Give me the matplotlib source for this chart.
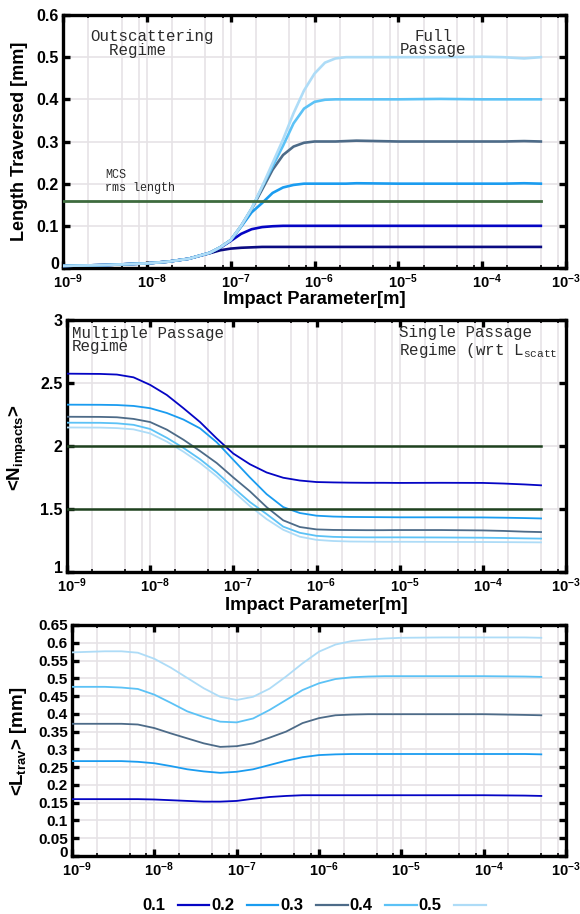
import numpy as np
import matplotlib
matplotlib.use("Agg")
import matplotlib.pyplot as plt
from matplotlib.ticker import FixedLocator, FixedFormatter, NullFormatter
from matplotlib.transforms import ScaledTranslation

plt.rcParams["font.family"] = ["Liberation Sans", "DejaVu Sans"]
plt.rcParams["mathtext.fontset"] = "custom"
plt.rcParams["mathtext.rm"] = "Liberation Sans"
plt.rcParams["mathtext.bf"] = "Liberation Sans:bold"
plt.rcParams["mathtext.it"] = "Liberation Sans:italic"
plt.rcParams["mathtext.tt"] = "Liberation Mono"

# ---------------- data ----------------
thickness_labels = ["0.1", "0.2", "0.3", "0.4", "0.5"]

# log10 of impact parameter [m]
logb_len = [-9, -8.5, -8, -7.75, -7.5, -7.25, -7.125, -7, -6.875, -6.75, -6.625,
            -6.5, -6.375, -6.25, -6.125, -6, -5.875, -5.75, -5.625, -5.5, -5, -4.5,
            -4, -3.75, -3.5, -3.3]
len_005 = [.005, .007, .011, .015, .022, .035, .042, .046, .048, .049, .050, .050,
           .050, .050, .050, .050, .050, .050, .050, .050, .050, .050, .050, .050,
           .050, .050]
len_01 = [.005, .007, .011, .015, .022, .036, .048, .064, .081, .092, .097, .099,
          .100, .100, .100, .100, .100, .100, .100, .100, .100, .100, .100, .100,
          .100, .100]
len_02 = [.005, .007, .011, .015, .022, .036, .049, .066, .098, .132, .154, .178,
          .191, .197, .200, .200, .200, .200, .200, .201, .200, .200, .200, .200,
          .201, .200]
len_03 = [.005, .007, .011, .015, .022, .036, .049, .066, .100, .140, .186, .233,
          .268, .288, .297, .300, .300, .300, .301, .302, .300, .300, .300, .300,
          .301, .300]
len_04 = [.005, .007, .011, .015, .022, .036, .049, .066, .100, .141, .192, .241,
          .290, .343, .378, .394, .399, .400, .400, .400, .400, .401, .400, .400,
          .400, .400]
len_05 = [.005, .007, .011, .015, .022, .036, .049, .066, .100, .141, .193, .249,
          .305, .367, .421, .461, .487, .497, .500, .500, .500, .500, .501, .500,
          .497, .500]
mcs_rms_length = 0.16

logb_n = [-9, -8.6, -8.4, -8.2, -8.0, -7.8, -7.6, -7.4, -7.2, -7.0, -6.8, -6.6, -6.4,
          -6.2, -6.0, -5.8, -5.6, -5.4, -5.2, -5, -4.5, -4, -3.75, -3.5, -3.3]
n_01 = [2.574, 2.572, 2.567, 2.545, 2.485, 2.405, 2.30, 2.19, 2.06, 1.94, 1.855,
        1.79, 1.748, 1.726, 1.714, 1.711, 1.709, 1.708, 1.708, 1.707, 1.708, 1.707,
        1.702, 1.695, 1.688]
n_02 = [2.328, 2.327, 2.325, 2.318, 2.30, 2.262, 2.21, 2.14, 2.03, 1.89, 1.75,
        1.618, 1.515, 1.468, 1.447, 1.44, 1.437, 1.436, 1.435, 1.434, 1.434, 1.433,
        1.431, 1.428, 1.425]
n_03 = [2.232, 2.231, 2.228, 2.215, 2.19, 2.13, 2.05, 1.96, 1.865, 1.75, 1.64,
        1.515, 1.41, 1.357, 1.338, 1.334, 1.333, 1.332, 1.332, 1.333, 1.333, 1.33,
        1.326, 1.32, 1.317]
n_04 = [2.185, 2.184, 2.18, 2.168, 2.135, 2.065, 1.985, 1.895, 1.79, 1.67, 1.555,
        1.46, 1.36, 1.311, 1.287, 1.279, 1.276, 1.275, 1.275, 1.275, 1.274, 1.272,
        1.27, 1.267, 1.265]
n_05 = [2.147, 2.146, 2.142, 2.132, 2.10, 2.035, 1.955, 1.865, 1.76, 1.64, 1.523,
        1.42, 1.335, 1.28, 1.255, 1.246, 1.242, 1.241, 1.24, 1.24, 1.239, 1.238,
        1.237, 1.236, 1.235]
n_levels = [2.0, 1.5]

logb_tr = [-9, -8.6, -8.4, -8.2, -8.0, -7.8, -7.6, -7.4, -7.2, -7.0, -6.8, -6.6,
           -6.4, -6.2, -6.0, -5.8, -5.6, -5.4, -5.2, -5, -4.5, -4, -3.5, -3.3]
tr_01 = [.160, .160, .160, .160, .159, .157, .155, .153, .153, .155, .161, .166,
         .169, .171, .171, .171, .171, .171, .171, .171, .171, .171, .170, .169]
tr_02 = [.267, .267, .267, .265, .261, .253, .244, .238, .234, .237, .244, .256,
         .268, .278, .284, .286, .287, .287, .287, .287, .287, .287, .287, .286]
tr_03 = [.372, .372, .372, .370, .360, .345, .331, .317, .307, .309, .317, .333,
         .350, .374, .388, .396, .398, .399, .399, .399, .399, .399, .397, .396]
tr_04 = [.476, .476, .474, .470, .454, .431, .407, .391, .378, .376, .387, .411,
         .439, .467, .486, .498, .503, .505, .506, .506, .506, .506, .505, .504]
tr_05 = [.573, .576, .576, .572, .555, .530, .501, .472, .448, .439, .448, .471,
         .505, .542, .575, .595, .605, .609, .612, .614, .615, .615, .615, .614]

# ---------------- style ----------------
col_005 = "#0b0b82"
colors = ["#0505c4", "#1a9cf0", "#4d6b88", "#5cc2f6", "#aedcf7"]
grid_col = "#e6e3e6"
W, H = 580, 914

fig = plt.figure(figsize=(W / 100, H / 100), dpi=100)


def axes_px(left, top, right, bottom):
    return fig.add_axes([left / W, 1 - bottom / H, (right - left) / W, (bottom - top) / H])


x_major = [1e-9, 1e-8, 1e-7, 1e-6, 1e-5, 1e-4, 1e-3]
x_major_labels = [r"$\mathbf{10^{-%d}}$" % k for k in range(9, 2, -1)]
x_minor = [m * d for d in x_major[:-1] for m in (2, 5, 8)]
# decade labels: the "10" sits centred on the tick, exponent hangs to the right
label_shift = ScaledTranslation(3.5 / 72, 0, fig.dpi_scale_trans)
# lift the bottom y label a touch so it clears the first decade label
corner_lift = ScaledTranslation(0, 3.5 / 72, fig.dpi_scale_trans)


def style_axes(ax, yticks, ylabels, ysize):
    ax.set_xscale("log")
    ax.set_xlim(1e-9, 1e-3)
    ax.xaxis.set_major_locator(FixedLocator(x_major))
    ax.xaxis.set_major_formatter(FixedFormatter(x_major_labels))
    ax.xaxis.set_minor_locator(FixedLocator(x_minor))
    ax.xaxis.set_minor_formatter(NullFormatter())
    ax.set_ylim(yticks[0], yticks[-1])
    ax.yaxis.set_major_locator(FixedLocator(yticks))
    ax.yaxis.set_major_formatter(FixedFormatter(ylabels))
    ax.grid(True, which="both", color=grid_col, lw=1.2, zorder=0)
    ax.set_axisbelow(True)
    for s in ax.spines.values():
        s.set_linewidth(2.4)
        s.set_color("black")
    ax.tick_params(which="major", direction="in", length=5, width=2.4,
                   top=True, right=True)
    ax.tick_params(which="minor", direction="in", length=2.5, width=1.2,
                   top=True, right=False)
    ax.tick_params(axis="x", which="major", labelsize=10.5, pad=3.0)
    ax.tick_params(axis="y", which="major", labelsize=ysize, pad=3)
    ylabs = ax.get_yticklabels()
    for lab in ylabs:
        lab.set_fontweight("bold")
    ylabs[0].set_transform(ylabs[0].get_transform() + corner_lift)
    # the last decade label stays centred so it fits inside the figure
    for lab in ax.get_xticklabels()[:-1]:
        lab.set_transform(lab.get_transform() + label_shift)


mono = dict(family="Liberation Mono", color="#2b2b2b")

# ---------------- panel 1: length traversed ----------------
ax1 = axes_px(63, 15, 566, 268)
b_len = 10.0 ** np.array(logb_len)
ax1.plot(b_len, len_005, color=col_005, lw=1.9, zorder=3)
for vals, c in zip([len_01, len_02, len_03, len_04, len_05], colors):
    ax1.plot(b_len, vals, color=c, lw=1.9, zorder=3)
ax1.plot([b_len[0], b_len[-1]], [mcs_rms_length] * 2, color="#3e6b3e", lw=2.0, zorder=4)
style_axes(ax1, [0, 0.1, 0.2, 0.3, 0.4, 0.5, 0.6],
           ["0", "0.1", "0.2", "0.3", "0.4", "0.5", "0.6"], 11.5)

fig.text(90 / W, 1 - 43.5 / H, "Outscattering\n  Regime", fontsize=11.4, ha="left",
         va="center", linespacing=0.85, **mono)
fig.text(433 / W, 1 - 43 / H, "Full\nPassage", fontsize=11.4, ha="center",
         va="center", multialignment="center", linespacing=0.9, **mono)
fig.text(105 / W, 1 - 181.5 / H, "MCS\nrms length", fontsize=8.5, ha="left",
         va="center", linespacing=1.05, **mono)

fig.text(20 / W, 1 - 141 / H, "Length Traversed [mm]", rotation=90, fontsize=13,
         fontweight="bold", ha="center", va="center")
fig.text(314 / W, 1 - 299 / H, "Impact Parameter[m]", fontsize=13.2,
         fontweight="bold", ha="center", va="center")

# ---------------- panel 2: mean number of impacts ----------------
ax2 = axes_px(67, 320, 566, 572)
b_n = 10.0 ** np.array(logb_n)
for vals, c in zip([n_01, n_02, n_03, n_04, n_05], colors):
    ax2.plot(b_n, vals, color=c, lw=1.3, zorder=3)
for lvl in n_levels:
    ax2.plot([b_n[0], b_n[-1]], [lvl, lvl], color="#1f421f", lw=1.8, zorder=4)
style_axes(ax2, [1, 1.5, 2, 2.5, 3], ["1", "1.5", "2", "2.5", "3"], 11.5)

fig.text(71.5 / W, 1 - 340 / H, "Multiple Passage\nRegime", fontsize=11.4, ha="left",
         va="center", linespacing=0.85, **mono)
fig.text(399 / W, 1 - 333 / H, "Single Passage", fontsize=11.4, ha="left", va="center", **mono)
fig.text(399 / W, 1 - 350 / H, r"Regime (wrt L$_{\mathtt{scatt}}$", fontsize=11.4,
         ha="left", va="center", **mono)

fig.text(17 / W, 1 - 448 / H, r"<N$_{\mathbf{impacts}}$>", rotation=90, fontsize=13.5,
         fontweight="bold", ha="center", va="center")
fig.text(316 / W, 1 - 605 / H, "Impact Parameter[m]", fontsize=13.2,
         fontweight="bold", ha="center", va="center")

# ---------------- panel 3: mean traversed length ----------------
ax3 = axes_px(72, 625, 566, 856)
b_tr = 10.0 ** np.array(logb_tr)
lines = []
for vals, c, lab in zip([tr_01, tr_02, tr_03, tr_04, tr_05], colors, thickness_labels):
    ln, = ax3.plot(b_tr, vals, color=c, lw=1.3, zorder=3, label=lab)
    lines.append(ln)
tr_ticks = [round(0.05 * i, 2) for i in range(14)]
tr_labels = ["0"] + ["%g" % t for t in tr_ticks[1:]]
style_axes(ax3, tr_ticks, tr_labels, 11)

fig.text(19 / W, 1 - 741 / H, r"<L$_{\mathbf{trav}}$> [mm]", rotation=90, fontsize=13.5,
         fontweight="bold", ha="center", va="center")

leg = fig.legend(handles=lines, labels=thickness_labels, loc="center",
                 bbox_to_anchor=(314 / W, 1 - 906 / H), ncol=5, frameon=False,
                 markerfirst=False, handlelength=1.9, handletextpad=0.75,
                 columnspacing=0.12, prop=dict(weight="bold", size=12))
for h in leg.get_lines():
    h.set_linewidth(1.6)

fig.savefig("out.png", dpi=100)
